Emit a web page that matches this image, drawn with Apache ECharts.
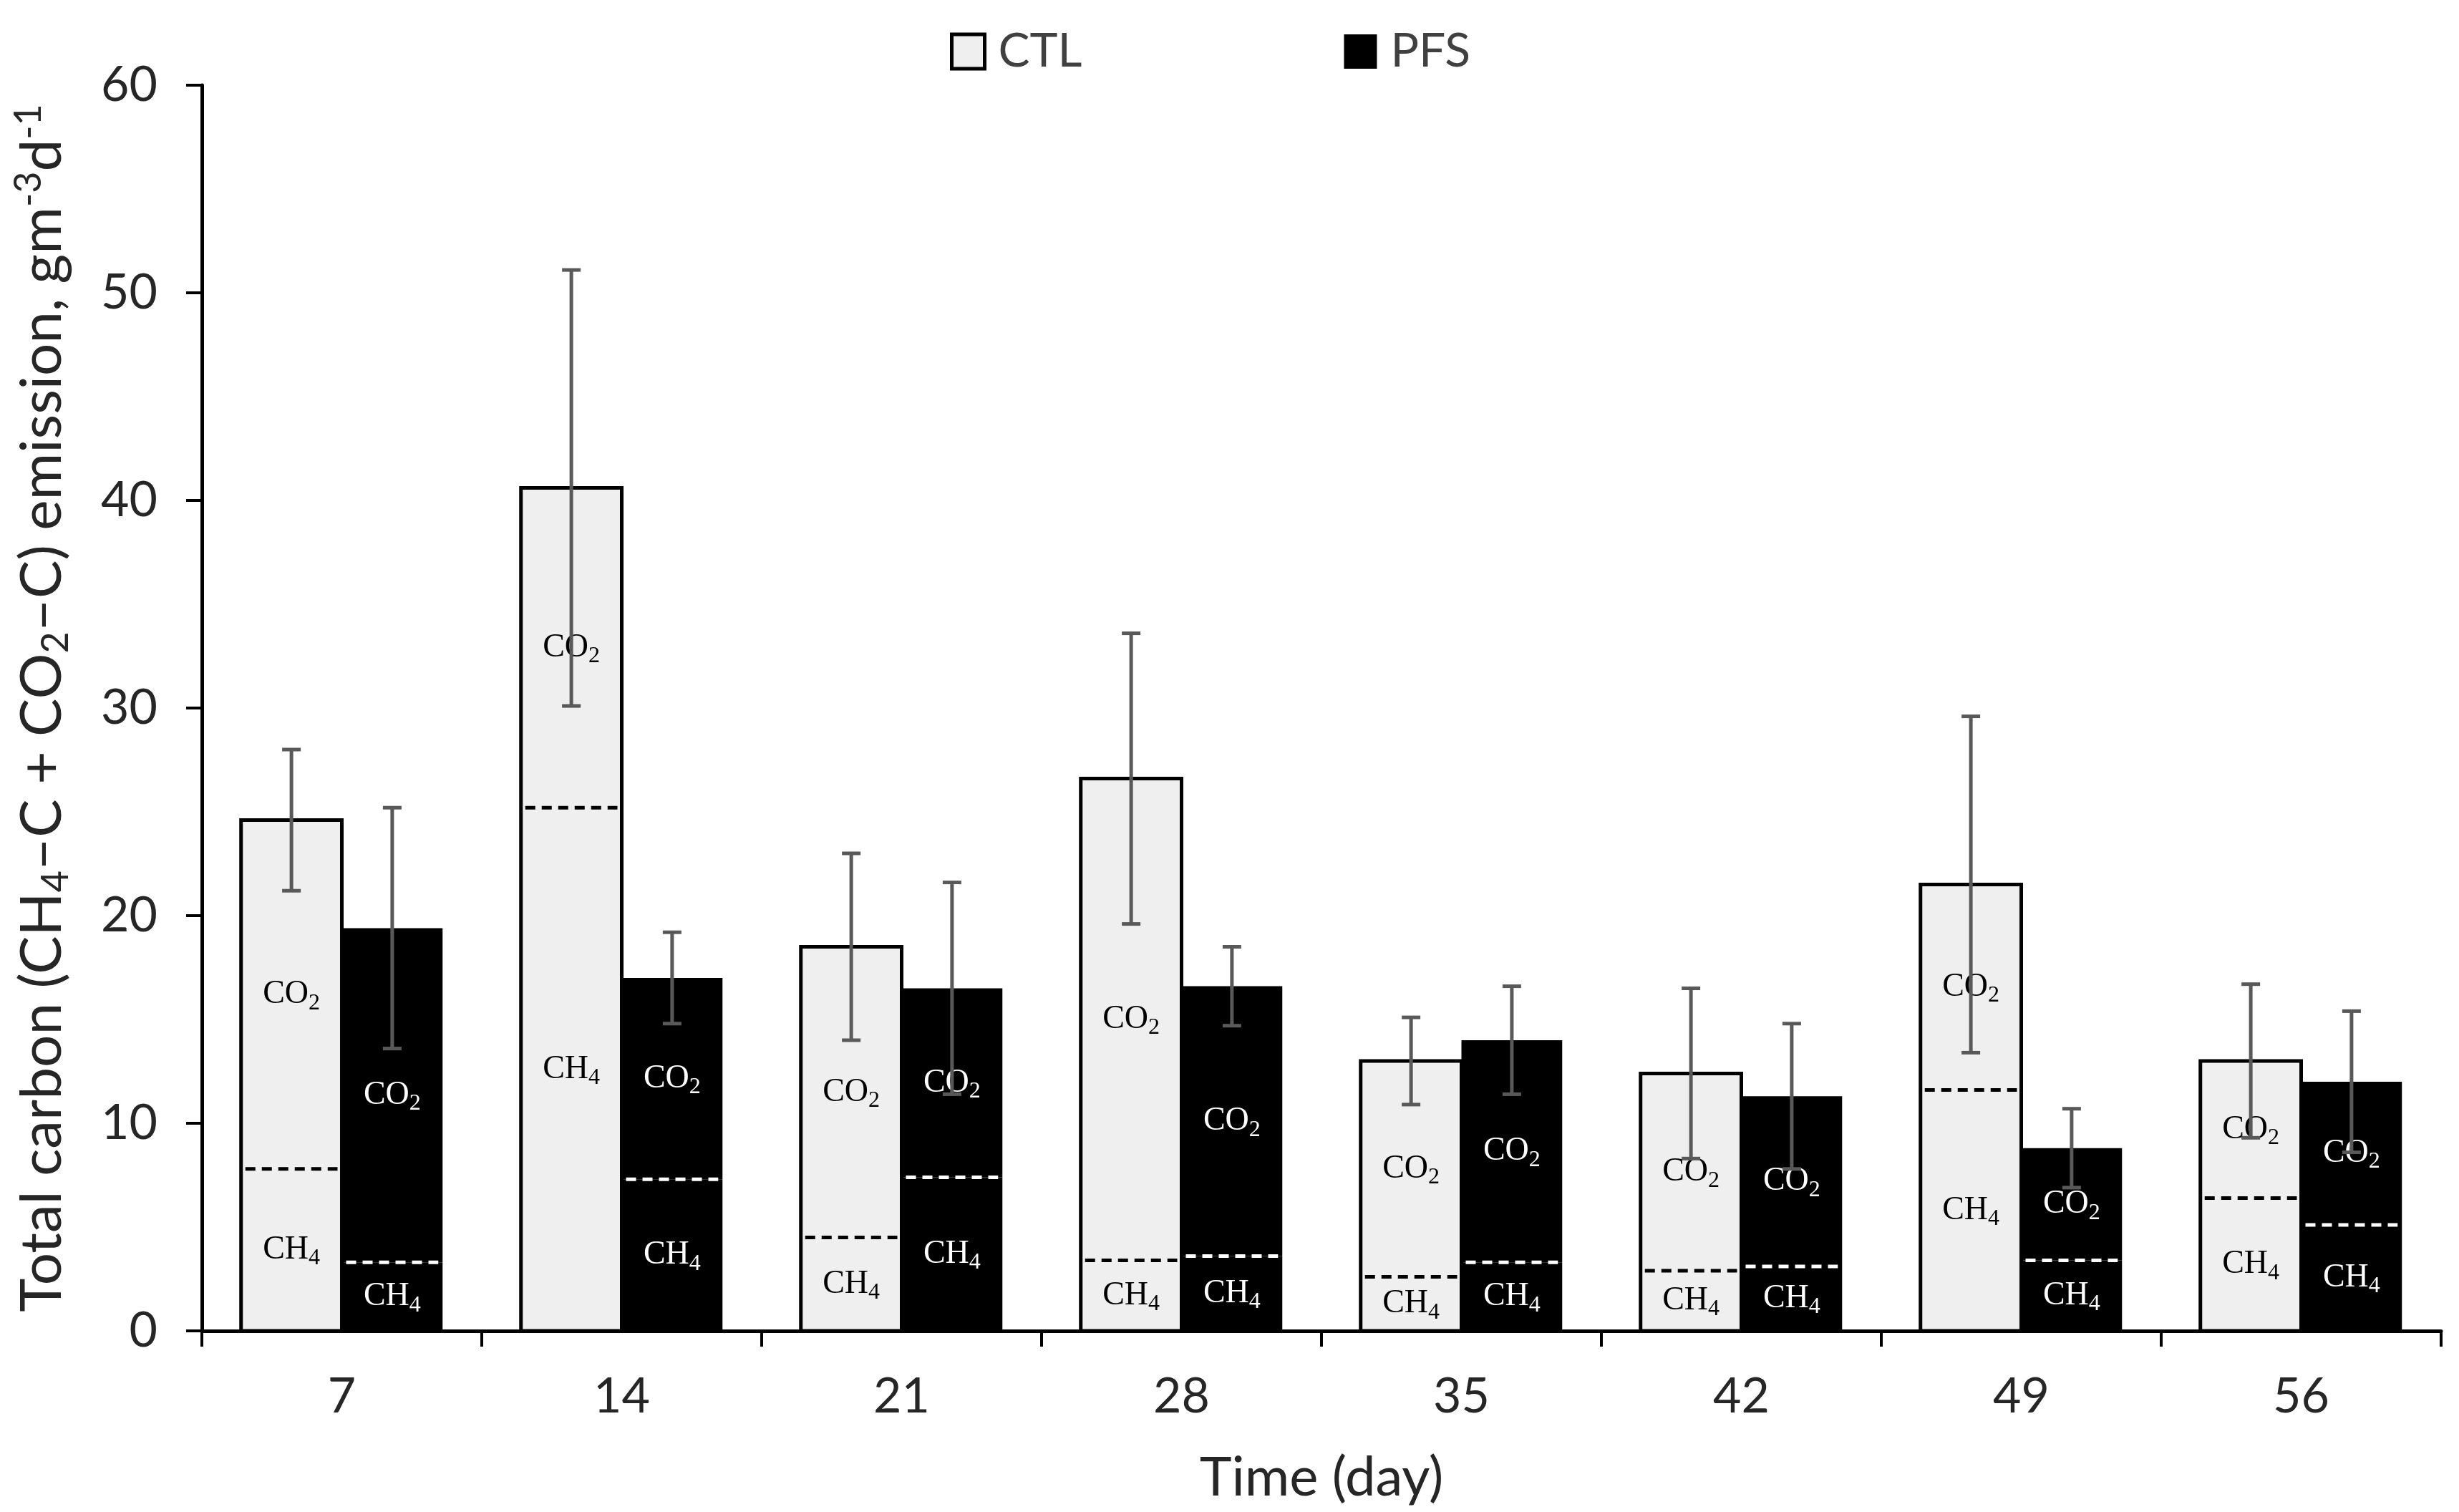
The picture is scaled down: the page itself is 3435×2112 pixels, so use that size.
<!DOCTYPE html>
<html>
<head>
<meta charset="utf-8">
<script src="https://cdn.jsdelivr.net/npm/echarts@6/dist/echarts.min.js"></script>
<style>
  html, body { margin: 0; padding: 0; background: #fff; }
  #chart { width: 3435px; height: 2112px; }
</style>
</head>
<body>
<div id="chart"></div>
<script>
// sampling days
const days = ['7', '14', '21', '28', '35', '42', '49', '56'];

// CTL: CH4-C part, CO2-C part (stacked), and standard deviation of the total
const ctlCH4 = [7.8, 25.2, 4.5, 3.4, 2.6, 2.9, 11.6, 6.4];
const ctlCO2 = [16.8, 15.4, 14.0, 23.2, 10.4, 9.5, 9.9, 6.6];
const ctlSD = [3.4, 10.5, 4.5, 7.0, 2.1, 4.1, 8.1, 3.7];

// PFS
const pfsCH4 = [3.3, 7.3, 7.4, 3.6, 3.3, 3.1, 3.4, 5.1];
const pfsCO2 = [16.1, 9.7, 9.1, 13.0, 10.7, 8.2, 5.4, 6.9];
const pfsSD = [5.8, 2.2, 5.1, 1.9, 2.6, 3.5, 1.9, 3.4];

const yTicks = [0, 10, 20, 30, 40, 50, 60];

const CAT_GAP = 0.28;   // barCategoryGap as a fraction
const sansFont = 'Lato';
const serifFont = 'Liberation Serif';

/**
 * Rich text for the in-bar CO2 / CH4 labels
 */
function gasLabel(color) {
  return {
    show: true,
    position: 'inside',
    rich: {
      m: { fontFamily: serifFont, fontSize: 46, color: color },
      s: { fontFamily: serifFont, fontSize: 32, color: color, padding: [24, 0, 0, 0] },
    },
  };
}

/**
 * Outline, CH4/CO2 divider and error bar for one treatment
 * sign: -1 for the left bar (CTL), +1 for the right bar (PFS)
 */
function makeOverlay(sign, outline, dashColor) {
  return function (params, api) {
    const i = api.value(0);
    const ch4 = api.value(1);
    const co2 = api.value(2);
    const sd = api.value(3);
    const total = ch4 + co2;

    const band = api.size([1, 0])[0];
    const bw = band * (1 - CAT_GAP) / 2;
    const base = api.coord([i, 0]);
    const cx = base[0] + sign * bw / 2;
    const yTop = api.coord([i, total])[1];
    const yMid = api.coord([i, ch4])[1];
    const yHi = api.coord([i, total + sd])[1];
    const yLo = api.coord([i, total - sd])[1];
    const cap = 13;

    const children = [];
    if (outline) {
      children.push({
        type: 'rect',
        shape: { x: cx - bw / 2, y: yTop, width: bw, height: base[1] - yTop },
        style: { fill: 'none', stroke: '#000', lineWidth: 5 },
      });
    }
    children.push({
      type: 'line',
      shape: { x1: cx - bw / 2 + 6, y1: yMid, x2: cx + bw / 2 - 6, y2: yMid },
      style: { stroke: dashColor, lineWidth: 5, lineDash: [14, 9] },
    });
    const errStyle = { stroke: '#595959', lineWidth: 5 };
    children.push(
      { type: 'line', shape: { x1: cx, y1: yHi, x2: cx, y2: yLo }, style: errStyle },
      { type: 'line', shape: { x1: cx - cap, y1: yHi, x2: cx + cap, y2: yHi }, style: errStyle },
      { type: 'line', shape: { x1: cx - cap, y1: yLo, x2: cx + cap, y2: yLo }, style: errStyle }
    );
    return { type: 'group', children: children };
  };
}

const ctlOverlay = days.map((d, i) => [i, ctlCH4[i], ctlCO2[i], ctlSD[i]]);
const pfsOverlay = days.map((d, i) => [i, pfsCH4[i], pfsCO2[i], pfsSD[i]]);

const chart = echarts.init(document.getElementById('chart'), null, { renderer: 'canvas' });

const option = {
  animation: false,
  backgroundColor: '#fff',
  textStyle: { fontFamily: sansFont },
  grid: { left: 282, right: 25, top: 119, bottom: 253 },
  legend: {
    left: 1322,
    top: 34,
    itemWidth: 46,
    itemHeight: 48,
    itemGap: 366,
    icon: 'rect',
    textStyle: { fontFamily: sansFont, fontSize: 66, color: '#404040', padding: [0, 0, 0, 14] },
    data: [
      { name: 'CTL', itemStyle: { color: '#efefef', borderColor: '#000', borderWidth: 5 } },
      { name: 'PFS', itemStyle: { color: '#000' } },
    ],
  },
  xAxis: {
    type: 'category',
    data: days,
    name: 'Time (day)',
    nameLocation: 'middle',
    nameGap: 167,
    nameTextStyle: { fontFamily: sansFont, fontSize: 76, color: '#262626' },
    axisLine: { lineStyle: { color: '#000', width: 5 } },
    axisTick: { show: true, length: 22, lineStyle: { color: '#000', width: 4 } },
    axisLabel: { fontFamily: sansFont, fontSize: 68, color: '#262626', margin: 58 },
  },
  yAxis: {
    type: 'value',
    min: yTicks[0],
    max: yTicks[yTicks.length - 1],
    interval: 10,
    name: 'Total carbon (CH{sub|4}\u2013C + CO{sub|2}\u2013C) emission, gm{sup|-3}d{sup|-1}',
    nameLocation: 'middle',
    nameRotate: 90,
    nameGap: 178,
    nameTextStyle: {
      fontFamily: sansFont,
      fontSize: 80,
      color: '#262626',
      rich: {
        sub: { fontFamily: sansFont, fontSize: 52, color: '#262626', padding: [38, 0, 0, 0] },
        sup: { fontFamily: sansFont, fontSize: 52, color: '#262626', padding: [0, 0, 38, 0] },
      },
    },
    splitLine: { show: false },
    axisLine: { show: true, lineStyle: { color: '#000', width: 5 } },
    axisTick: { show: true, length: 22, lineStyle: { color: '#000', width: 4 } },
    axisLabel: { fontFamily: sansFont, fontSize: 68, color: '#262626', margin: 62 },
  },
  series: [
    {
      name: 'CTL', type: 'bar', stack: 'ctl', data: ctlCH4,
      barGap: '0%', barCategoryGap: (CAT_GAP * 100) + '%',
      itemStyle: { color: '#efefef' },
      label: Object.assign(gasLabel('#000'), { formatter: '{m|CH}{s|4}' }),
    },
    {
      name: 'CTL', type: 'bar', stack: 'ctl', data: ctlCO2,
      barGap: '0%', barCategoryGap: (CAT_GAP * 100) + '%',
      itemStyle: { color: '#efefef' },
      label: Object.assign(gasLabel('#000'), { formatter: '{m|CO}{s|2}' }),
    },
    {
      name: 'PFS', type: 'bar', stack: 'pfs', data: pfsCH4,
      barGap: '0%', barCategoryGap: (CAT_GAP * 100) + '%',
      itemStyle: { color: '#000' },
      label: Object.assign(gasLabel('#fff'), { formatter: '{m|CH}{s|4}' }),
    },
    {
      name: 'PFS', type: 'bar', stack: 'pfs', data: pfsCO2,
      barGap: '0%', barCategoryGap: (CAT_GAP * 100) + '%',
      itemStyle: { color: '#000' },
      label: Object.assign(gasLabel('#fff'), { formatter: '{m|CO}{s|2}' }),
    },
    {
      name: 'ctl-overlay', type: 'custom', z: 5,
      renderItem: makeOverlay(-1, true, '#000'),
      encode: { x: 0, y: 1 },
      data: ctlOverlay,
      silent: true,
    },
    {
      name: 'pfs-overlay', type: 'custom', z: 5,
      renderItem: makeOverlay(1, false, '#fff'),
      encode: { x: 0, y: 1 },
      data: pfsOverlay,
      silent: true,
    },
  ],
};

chart.setOption(option);
</script>
</body>
</html>
